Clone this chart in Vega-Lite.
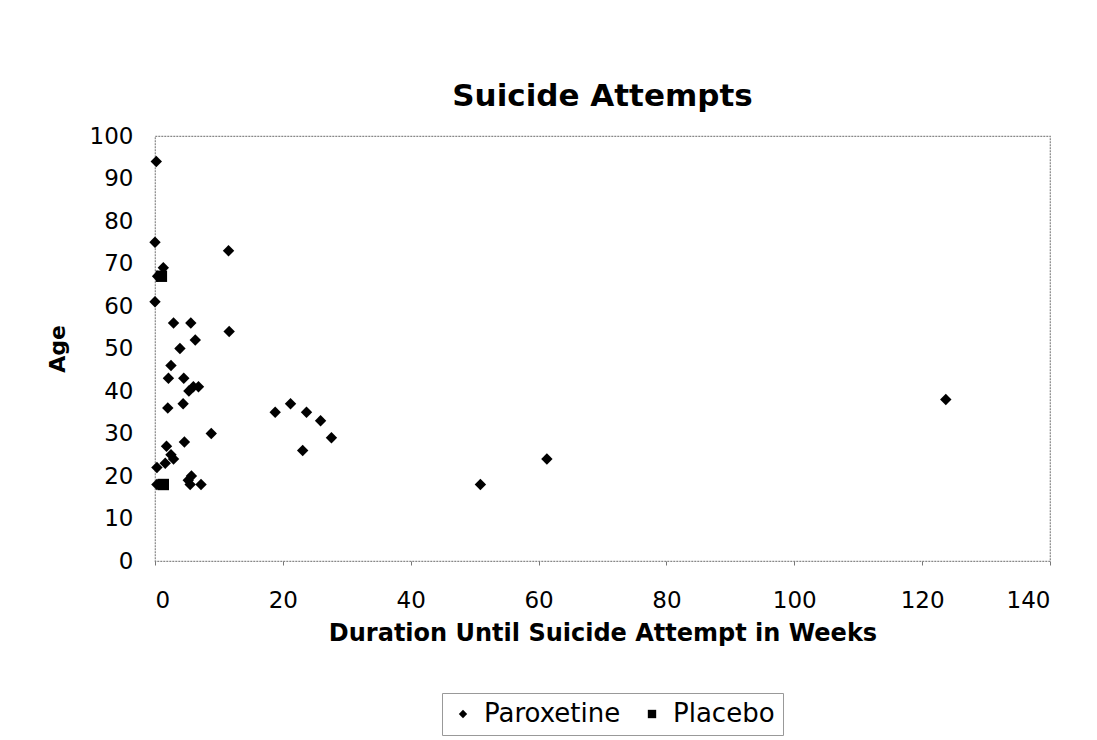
{
  "$schema": "https://vega.github.io/schema/vega-lite/v6.json",
  "autosize": "none",
  "width": 895,
  "height": 425,
  "padding": {"left": 155, "top": 136, "right": 47, "bottom": 179},
  "background": "white",
  "title": {"text": "Suicide Attempts", "fontSize": 31, "font": "DejaVu Sans", "fontWeight": "bold", "color": "black", "offset": 12, "anchor": "middle"},
  "data": {"values": [
    {"weeks": 0.2, "age": 94, "group": "Paroxetine"},
    {"weeks": 0, "age": 75, "group": "Paroxetine"},
    {"weeks": 1.3, "age": 69, "group": "Paroxetine"},
    {"weeks": 0.4, "age": 67, "group": "Paroxetine"},
    {"weeks": 0, "age": 61, "group": "Paroxetine"},
    {"weeks": 11.5, "age": 73, "group": "Paroxetine"},
    {"weeks": 2.9, "age": 56, "group": "Paroxetine"},
    {"weeks": 5.6, "age": 56, "group": "Paroxetine"},
    {"weeks": 11.6, "age": 54, "group": "Paroxetine"},
    {"weeks": 6.3, "age": 52, "group": "Paroxetine"},
    {"weeks": 3.9, "age": 50, "group": "Paroxetine"},
    {"weeks": 2.5, "age": 46, "group": "Paroxetine"},
    {"weeks": 2.1, "age": 43, "group": "Paroxetine"},
    {"weeks": 4.5, "age": 43, "group": "Paroxetine"},
    {"weeks": 5.3, "age": 40, "group": "Paroxetine"},
    {"weeks": 6.0, "age": 41, "group": "Paroxetine"},
    {"weeks": 6.8, "age": 41, "group": "Paroxetine"},
    {"weeks": 2.0, "age": 36, "group": "Paroxetine"},
    {"weeks": 4.4, "age": 37, "group": "Paroxetine"},
    {"weeks": 18.8, "age": 35, "group": "Paroxetine"},
    {"weeks": 21.2, "age": 37, "group": "Paroxetine"},
    {"weeks": 23.7, "age": 35, "group": "Paroxetine"},
    {"weeks": 25.9, "age": 33, "group": "Paroxetine"},
    {"weeks": 27.6, "age": 29, "group": "Paroxetine"},
    {"weeks": 23.1, "age": 26, "group": "Paroxetine"},
    {"weeks": 8.8, "age": 30, "group": "Paroxetine"},
    {"weeks": 4.6, "age": 28, "group": "Paroxetine"},
    {"weeks": 1.8, "age": 27, "group": "Paroxetine"},
    {"weeks": 2.5, "age": 25, "group": "Paroxetine"},
    {"weeks": 2.9, "age": 24, "group": "Paroxetine"},
    {"weeks": 1.6, "age": 23, "group": "Paroxetine"},
    {"weeks": 0.3, "age": 22, "group": "Paroxetine"},
    {"weeks": 0.3, "age": 18, "group": "Paroxetine"},
    {"weeks": 5.7, "age": 20, "group": "Paroxetine"},
    {"weeks": 5.2, "age": 19, "group": "Paroxetine"},
    {"weeks": 7.2, "age": 18, "group": "Paroxetine"},
    {"weeks": 5.5, "age": 18, "group": "Paroxetine"},
    {"weeks": 50.9, "age": 18, "group": "Paroxetine"},
    {"weeks": 61.3, "age": 24, "group": "Paroxetine"},
    {"weeks": 123.7, "age": 38, "group": "Paroxetine"},
    {"weeks": 1.0, "age": 67, "group": "Placebo"},
    {"weeks": 1.3, "age": 18, "group": "Placebo"}
  ]},
  "mark": {"type": "point", "filled": true, "opacity": 1, "size": 130},
  "encoding": {
    "x": {"field": "weeks", "type": "quantitative", "title": "Duration Until Suicide Attempt in Weeks",
      "scale": {"domain": [0, 140], "nice": false, "zero": true},
      "axis": {"values": [0, 20, 40, 60, 80, 100, 120, 140], "grid": false, "ticks": true, "tickSize": 4, "tickColor": "#777", "domain": false,
        "labelFontSize": 23, "labelFont": "DejaVu Sans", "labelColor": "black", "labelPadding": 24,
        "titleFontSize": 24, "titleFont": "DejaVu Sans", "titleFontWeight": "bold", "titleColor": "black", "titlePadding": 9}},
    "y": {"field": "age", "type": "quantitative", "title": "Age",
      "scale": {"domain": [0, 100], "nice": false},
      "axis": {"values": [0, 10, 20, 30, 40, 50, 60, 70, 80, 90, 100], "grid": false, "ticks": false, "domain": false,
        "labelFontSize": 23, "labelFont": "DejaVu Sans", "labelColor": "black", "labelPadding": 22,
        "titleFontSize": 22, "titleFont": "DejaVu Sans", "titleFontWeight": "bold", "titleColor": "black", "titlePadding": 20}},
    "shape": {"field": "group", "type": "nominal", "scale": {"domain": ["Paroxetine", "Placebo"], "range": ["diamond", "square"]},
      "legend": {"title": null, "orient": "none", "legendX": 287, "legendY": 557, "direction": "horizontal", "labelFontSize": 26, "labelFont": "DejaVu Sans", "labelColor": "black",
        "symbolSize": 70, "symbolFillColor": "black", "symbolStrokeColor": "black", "strokeColor": "#999", "padding": 8, "columnPadding": 18, "labelOffset": 8}},
    "color": {"value": "black"}
  },
  "config": {"view": {"stroke": "#888", "strokeWidth": 1.2, "strokeDash": [2, 1]}}
}
